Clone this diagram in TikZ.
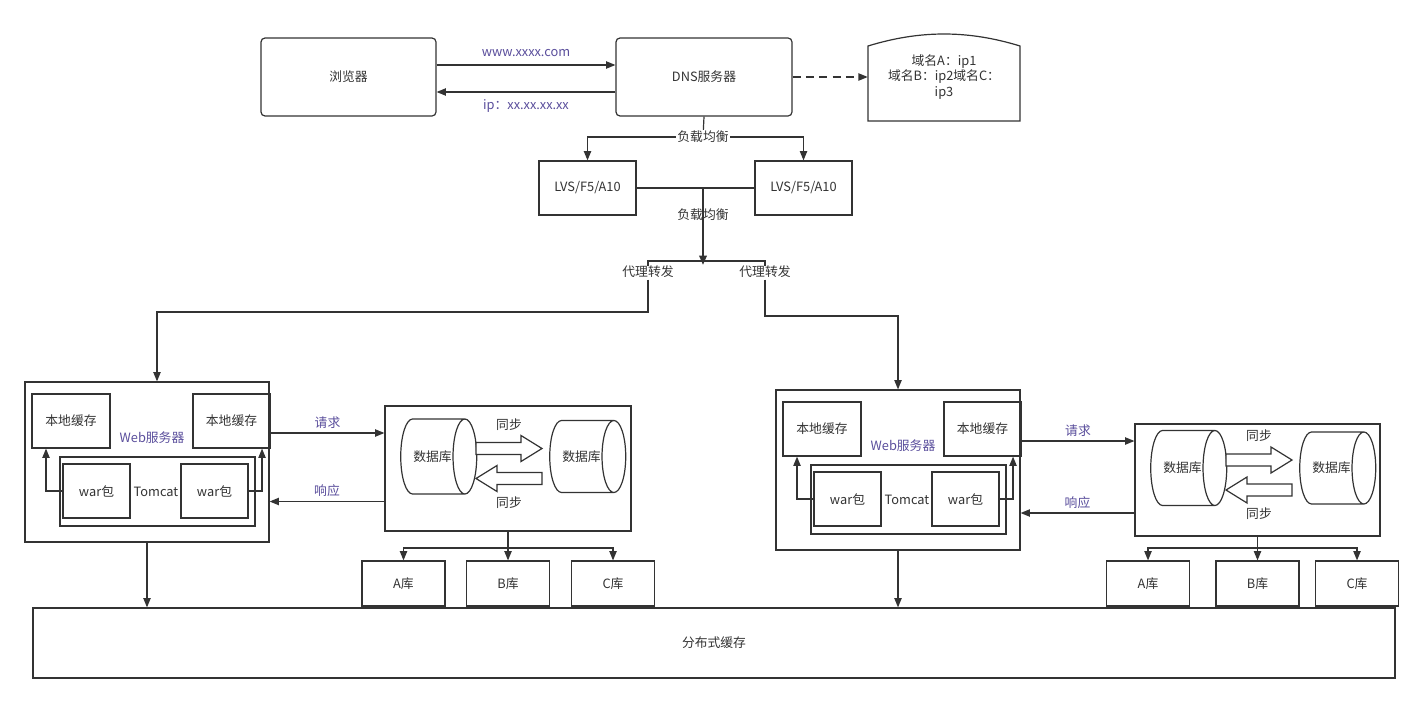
\documentclass[tikz,border=0pt]{standalone}
\usepackage{fontspec}
\setmainfont{Noto Sans CJK SC}
\usetikzlibrary{shapes.geometric,calc,arrows.meta}
\definecolor{linecolor}{HTML}{333333}
\definecolor{labelcolor}{HTML}{5A4E9C}
\tikzset{
	sz/.style 2 args={minimum width=#1*0.75pt, minimum height=#2*0.75pt},
	plain/.style={inner sep=1pt, font=\fontsize{9.6}{11.5}\selectfont, text=linecolor},
	box/.style={plain, draw=linecolor, line width=0.9pt, inner sep=0pt},
	arr/.style={draw=linecolor, line width=0.9pt, -{Triangle[length=7pt,width=5.5pt]}},
	cyl/.style={box, shape=cylinder, shape aspect=2},
	fat/.style={draw=linecolor, line width=0.9pt, fill=white},
}
% one web server with two local caches and a tomcat
\newcommand\webserver[3]{%
	\begin{scope}[shift={(#2,#3)}]
		\node[box, sz={244}{160}] (#1web) at (122,80) {};
		\node[box, sz={78}{54}] (#1cachea) at (46,39) {本地缓存};
		\node[box, sz={77}{54}] (#1cacheb) at (206.5,39) {本地缓存};
		\node[box, sz={195}{69}] (#1tomcat) at (132.5,109.5) {};
		\node[box, sz={67}{54}] (#1wara) at (71.5,109) {war包};
		\node[box, sz={67}{54}] (#1warb) at (189.5,109) {war包};
		\node[plain] (#1tomcatlabel) at (131,110) {Tomcat};
		\node[plain, text=labelcolor] (#1weblabel) at (127,56) {Web服务器};
		\draw[arr] (#1wara.west) -| ([xshift=-18.75pt]#1cachea.south);
		\draw[arr] (#1warb.east) -| ([xshift=22.9pt]#1cacheb.south);
	\end{scope}}
% one database pair with sync arrows
\newcommand\dbcluster[5]{%
	\begin{scope}[shift={(#2,#3)}]
		\node[box, sz={#4}{#5}] (#1db) at ({#4/2},{#5/2}) {};
		\node[cyl, sz={75}{76}] (#1dba) at (47.5,{#5/2-12}) {数据库};
		\node[cyl, sz={72}{76}] (#1dbb) at (196.5,{#5/2-12}) {数据库};
		\begin{scope}[yshift={-(#5/2-20)*0.75pt}]
			\draw[fat] (91,-6) -- (136,-6) -- (136,-13) -- (157,0) -- (136,13) -- (136,6) -- (91,6) -- cycle;
		\end{scope}
		\begin{scope}[yshift={-(#5/2+10)*0.75pt}]
			\draw[fat] (157,-6) -- (112,-6) -- (112,-13) -- (91,0) -- (112,13) -- (112,6) -- (157,6) -- cycle;
		\end{scope}
		\node[plain] (#1syncalabel) at (124,{#5/2-44}) {同步};
		\node[plain] (#1syncblabel) at (124,{#5/2+34}) {同步};
	\end{scope}}

\begin{document}
\begin{tikzpicture}[x=0.75pt, y=-0.75pt]
	\useasboundingbox[fill=white] (0,0) rectangle (1423,703);

	\node[box, rounded corners=3pt, sz={175}{78}] (browser) at (348.5,77) {浏览器};
	\node[box, rounded corners=3pt, sz={176}{78}] (dns) at (704,77) {DNS服务器};
	\node[plain, align=center, sz={152}{88}] (dnsdoc) at (944,77) {域名A：ip1\\域名B：ip2域名C：\\ip3};
	\draw[linecolor, line width=0.9pt] (868,121) -- (868,46) .. controls (920,30) and (968,30) .. (1020,46) -- (1020,121) -- cycle;

	\draw[arr] ($(browser.east)+(0,-12)$) -- node[plain, above=5pt, text=labelcolor] {www.xxxx.com} ($(dns.west)+(0,-12)$);
	\draw[arr] ($(dns.west)+(0,15)$) -- node[plain, below=4pt, text=labelcolor] {ip：xx.xx.xx.xx} ($(browser.east)+(0,15)$);
	\draw[arr, dashed, dash pattern=on 6pt off 4pt] (dns.east) -- (dnsdoc.west);

	% load balancing
	\node[box, sz={97}{54}] (lvsa) at (587.5,188) {LVS/F5/A10};
	\node[box, sz={97}{54}] (lvsb) at (803.5,188) {LVS/F5/A10};
	\coordinate (lbsplit) at (703,137);
	\draw[linecolor, line width=0.9pt] (dns.south) -- (lbsplit);
	\draw[arr] (lbsplit) -| (lvsa.north);
	\draw[arr] (lbsplit) -| (lvsb.north);
	\node[plain, fill=white] (lblabela) at (lbsplit) {负载均衡};
	\draw[linecolor, line width=0.9pt] (lvsa.east) -- (lvsb.west);
	\coordinate (lbjoin) at (703,188);
	\coordinate (lbend) at (703,265);
	\draw[arr, line width=1.6pt] (lbjoin) -- (lbend);
	\node[plain] (lblabelb) at (703,215) {负载均衡};

	% proxy forwarding
	\draw[linecolor, line width=0.9pt] (648,266) -- (648,261) -- (765,261) -- (765,266);
	\node[plain] (proxa) at (648,272) {代理转发};
	\node[plain] (proxb) at (765,272) {代理转发};

	\webserver{l}{25}{382}
	\webserver{r}{776}{390}
	\dbcluster{l}{385}{406}{246}{125}
	\dbcluster{r}{1135}{424}{245}{112}

	\draw[arr] (proxa.south) -- (648,312) -| ([xshift=7.5pt]lweb.north);
	\draw[arr] (proxb.south) -- (765,316) -| (rweb.north);

	% requests and responses
	\foreach \s in {l,r} {
		\coordinate (\s req) at ($(\s cacheb.east)+(0,12)$);
		\draw[arr] (\s req) -- node[plain, above=2pt, text=labelcolor] {请求} (\s req -| \s db.west);
		\coordinate (\s resp) at ($(\s db.west)+(0,33)$);
		\draw[arr] (\s resp) -- node[plain, above=2pt, text=labelcolor] {响应} (\s resp -| \s web.east);
	}

	% sharded libraries
	\foreach \p/\x/\t in {a/403.5/A, b/508/B, c/613/C}
		\node[box, sz={83}{45}] (llib\p) at (\x,583.5) {\t 库};
	\foreach \p/\x/\t in {a/1148/A, b/1257.5/B, c/1357/C}
		\node[box, sz={83}{45}] (rlib\p) at (\x,583.5) {\t 库};
	\coordinate (lsplit) at (508,548);
	\coordinate (rsplit) at (1257.5,548);
	\draw[linecolor, line width=0.9pt] (ldb.south) -- (lsplit);
	\draw[linecolor, line width=0.9pt] (rdb.south) -- (rsplit);
	\foreach \p in {a,b,c} {
		\draw[arr] (lsplit) -| (llib\p.north);
		\draw[arr] (rsplit) -| (rlib\p.north);
	}

	% distributed cache
	\node[box, sz={1362}{70}] (dist) at (714,643) {分布式缓存};
	\draw[arr] (lweb.south) -- (lweb.south |- dist.north);
	\draw[arr] (rweb.south) -- (rweb.south |- dist.north);
\end{tikzpicture}
\end{document}
